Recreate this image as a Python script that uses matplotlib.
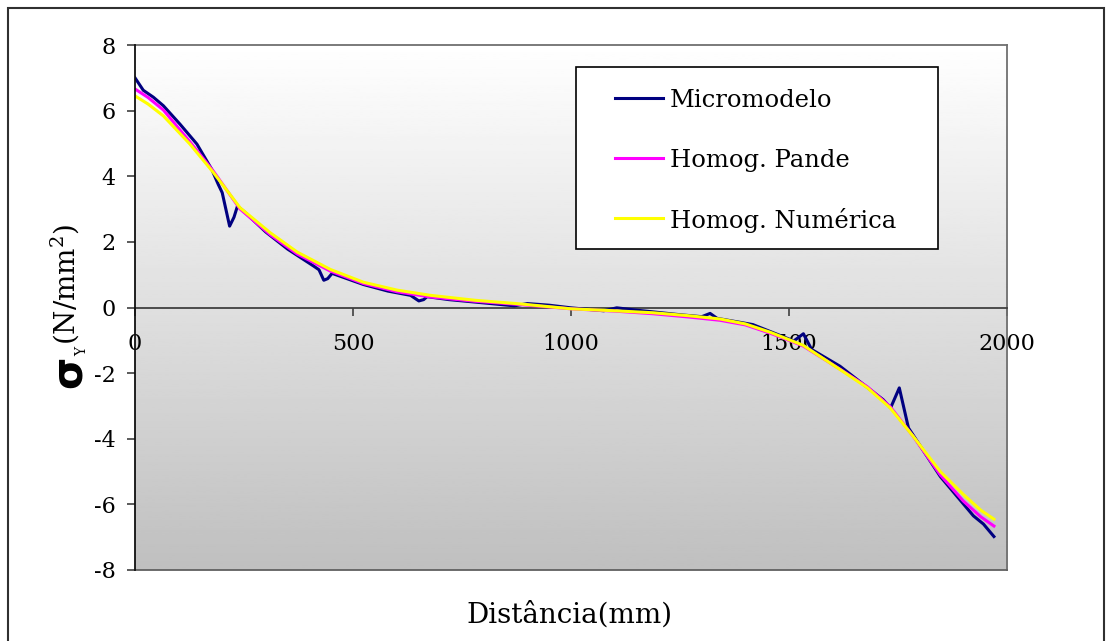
import numpy as np
import matplotlib
matplotlib.use("Agg")
import matplotlib.pyplot as plt
from matplotlib.patches import Rectangle
from matplotlib.lines import Line2D

plt.rcParams['font.family'] = ['DejaVu Serif']
plt.rcParams['mathtext.fontset'] = 'dejavuserif'
plt.rcParams['axes.unicode_minus'] = False

# distance (mm) / stress (N/mm2) for each model
x_micro = [0, 19, 42, 65, 103, 142, 176, 191, 200, 217, 227, 235, 253, 300, 350,
           410, 422, 433, 442, 452, 524, 580, 632, 651, 662, 670, 720, 800, 870,
           900, 950, 1000, 1075, 1105, 1150, 1250, 1300, 1319, 1335, 1417, 1500,
           1510, 1533, 1552, 1617, 1716, 1733, 1753, 1774, 1847, 1923, 1946, 1970]
y_micro = [7.0, 6.62, 6.41, 6.15, 5.59, 4.98, 4.21, 3.75, 3.5, 2.48, 2.75, 3.09, 2.89,
           2.3, 1.78, 1.26, 1.15, 0.83, 0.88, 1.04, 0.70, 0.50, 0.37, 0.20, 0.24,
           0.33, 0.24, 0.14, 0.05, 0.12, 0.07, -0.01, -0.10, -0.01, -0.08, -0.22,
           -0.28, -0.18, -0.33, -0.52, -0.96, -1.03, -0.80, -1.28, -1.79, -2.81,
           -3.06, -2.45, -3.67, -5.15, -6.35, -6.60, -6.98]

x_homog = [0, 30, 65, 126, 180, 241, 310, 372, 448, 524, 601, 678, 780, 883, 1000,
           1100, 1188, 1270, 1342, 1400, 1456, 1500, 1532, 1617, 1680, 1732, 1785,
           1847, 1900, 1940, 1970]
y_pande = [6.66, 6.40, 6.02, 5.05, 4.15, 3.0, 2.22, 1.63, 1.11, 0.73, 0.48, 0.32,
           0.19, 0.09, -0.04, -0.11, -0.19, -0.29, -0.39, -0.53, -0.78, -1.0, -1.17,
           -1.88, -2.42, -3.02, -3.93, -5.1, -5.9, -6.38, -6.66]
y_numerica = [6.45, 6.20, 5.84, 4.98, 4.11, 3.04, 2.28, 1.69, 1.16, 0.77, 0.53,
              0.37, 0.22, 0.11, -0.04, -0.10, -0.16, -0.25, -0.35, -0.50, -0.75,
              -0.98, -1.15, -1.89, -2.45, -3.06, -3.93, -5.0, -5.70, -6.18, -6.45]

labels = ['Micromodelo', 'Homog. Pande', 'Homog. Numérica']
colors = ['#000080', '#ff00ff', '#ffff00']

W, H = 1106, 641
fig = plt.figure(figsize=(W / 100, H / 100), dpi=100)
ax = fig.add_axes([135 / W, 1 - 570 / H, 872 / W, 525 / H])

def px(x, y):
    return x / W, 1 - y / H

# grey gradient behind the plot area
grad = np.linspace(1.0, 0.75, 256).reshape(-1, 1)
ax.imshow(grad, extent=[0, 2000, -8, 8], aspect='auto', cmap='gray',
          vmin=0, vmax=1, zorder=0, origin='upper')

ax.plot(x_micro, y_micro, color=colors[0], lw=2.2, zorder=3, solid_joinstyle='round')
ax.plot(x_homog, y_pande, color=colors[1], lw=2.2, zorder=4, solid_joinstyle='round')
ax.plot(x_homog, y_numerica, color=colors[2], lw=2.2, zorder=5, solid_joinstyle='round')

ax.set_xlim(0, 2000)
ax.set_ylim(-8, 8)
ax.set_xticks([0, 500, 1000, 1500, 2000])
ax.set_yticks(np.arange(-8, 9, 2))

ax.spines['bottom'].set_position(('data', 0))
ax.spines['bottom'].set_color('#404040')
ax.spines['bottom'].set_linewidth(1.3)
for s in ['top', 'right']:
    ax.spines[s].set_color('#707070')
    ax.spines[s].set_linewidth(1.3)
ax.spines['left'].set_color('#101010')
ax.spines['left'].set_linewidth(1.3)
ax.spines['left'].set_zorder(6)
ax.axhline(-8, color='#606060', lw=1.3, zorder=6, clip_on=False)

ax.tick_params(axis='x', direction='out', length=6, width=1.2, color='#404040',
               labelsize=16, pad=12)
ax.tick_params(axis='y', direction='out', length=6, width=1.2, color='#404040',
               labelsize=16, pad=8)

fig.text(*px(569, 623), 'Distância(mm)', fontsize=20, ha='center', va='baseline')

# y axis title built from pieces: big sigma, small subscript, units
fig.text(*px(69, 372), 'σ', rotation=90, fontsize=30, fontweight='bold',
         family='DejaVu Sans', ha='center', va='center')
fig.text(*px(82, 351), 'Y', rotation=90, fontsize=10, ha='center', va='center')
fig.text(*px(65, 345), '(N/mm$^2$)', rotation=90, fontsize=20,
         ha='center', va='bottom')

# legend box
lx0, ly0, lx1, ly1 = 576, 67, 938, 249
fig.patches.append(Rectangle(px(lx0, ly1), (lx1 - lx0) / W, (ly1 - ly0) / H,
                             transform=fig.transFigure, facecolor='white',
                             edgecolor='black', lw=1.2, zorder=10))
for i, (lab, col) in enumerate(zip(labels, colors)):
    ry = 98 + 60 * i
    fig.lines.append(Line2D([615 / W, 663 / W], [1 - ry / H, 1 - ry / H],
                            transform=fig.transFigure, color=col, lw=2.2, zorder=11))
    fig.text(*px(670, ry), lab, fontsize=17.5, ha='left', va='center_baseline', zorder=12)

# outer chart border
fig.patches.append(Rectangle((8 / W, -0.02), (1104 - 8) / W, (H - 8) / H + 0.02,
                             transform=fig.transFigure, fill=False,
                             edgecolor='#303030', lw=1.5, zorder=20))

fig.savefig('out.png', dpi=100)
